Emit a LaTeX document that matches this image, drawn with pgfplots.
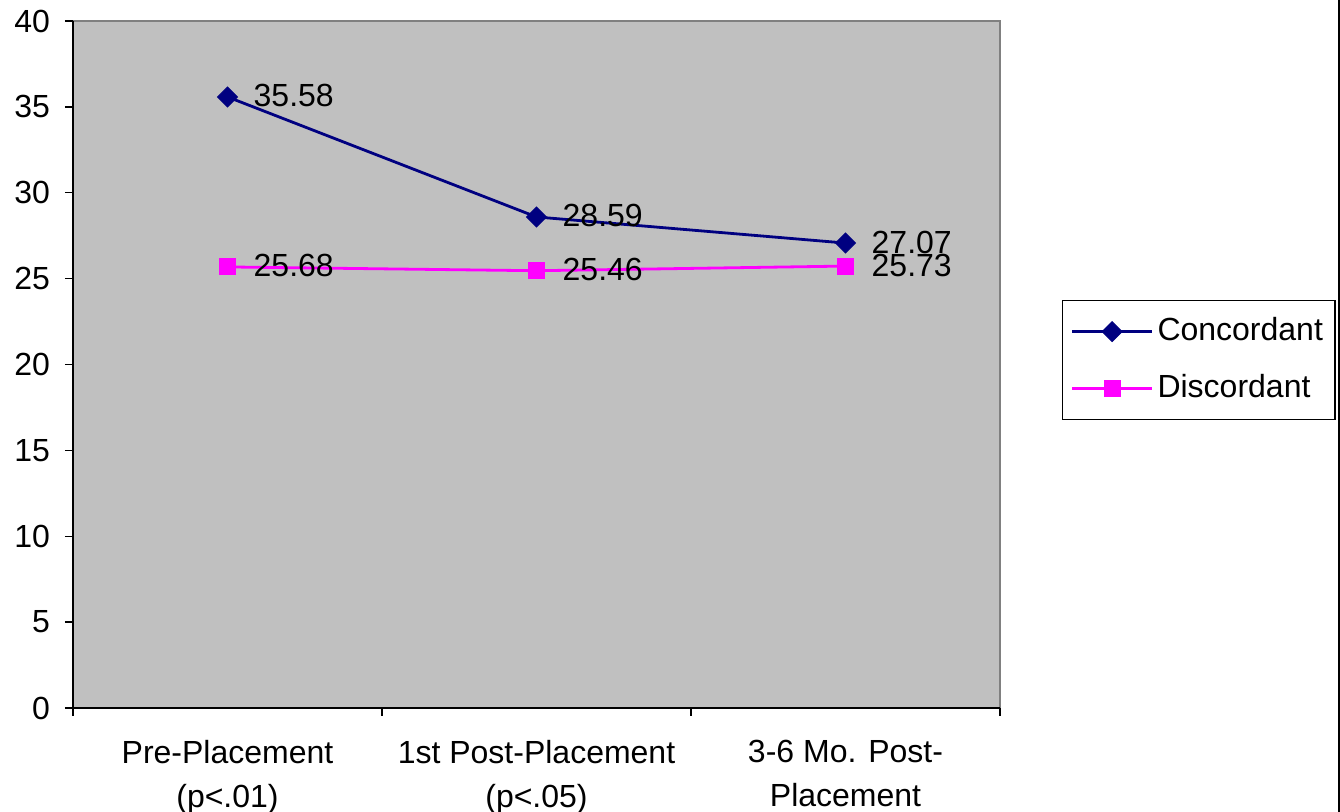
\documentclass[border=0pt]{standalone}
\usepackage{fontspec}
\setmainfont{Liberation Sans}
\usepackage{pgfplots}
\pgfplotsset{compat=1.18}
\definecolor{navy}{HTML}{000080}
\definecolor{mag}{HTML}{FF00FF}
\definecolor{plotbg}{HTML}{C0C0C0}
\definecolor{bordergray}{HTML}{808080}
\begin{document}
\fontsize{16}{22.5}\selectfont
\begin{tikzpicture}
\path[use as bounding box] (0,0) rectangle (670pt,406pt);
\draw[black, line width=1pt] (669.3pt,0) -- (669.3pt,406pt);
\begin{axis}[
  at={(36.5pt,52pt)}, anchor=south west,
  scale only axis, width=463.5pt, height=343.5pt,
  xmin=-0.5, xmax=2.5, ymin=0, ymax=40,
  axis background/.style={fill=plotbg},
  axis line style={draw=none},
  ytick={0,5,...,40},
  xtick={0,1,2},
  xtick pos=bottom, ytick pos=left,
  xticklabels={{Pre-Placement\\(p<.01)},{1st Post-Placement\\(p<.05)},{3-6 Mo. Post-\\Placement}},
  xticklabel style={align=center, font=\fontsize{16}{22}\selectfont, yshift=-6.5pt},
  yticklabel style={font=\fontsize{16}{19}\selectfont, xshift=-2pt},
  /pgf/number format/assume math mode=true,
  major x tick style={draw=none},
  minor xtick={-0.5,0.5,1.5,2.5},
  tick align=outside, tickwidth=4pt,
  minor tick length=4pt,
  tick style={black, line width=0.7pt},
  clip=false,
  nodes near coords,
  every node near coord/.append style={anchor=west, xshift=7.5pt, yshift=0.5pt, font=\fontsize{16}{19}\selectfont, black},
  point meta=explicit symbolic,
  legend style={at={(rel axis cs:1.0669,0.594)}, anchor=north west, draw=black, line width=0.7pt, fill=white,
    font=\fontsize{16}{19}\selectfont, row sep=10.5pt, inner xsep=4pt, inner ysep=6.5pt,
    cells={anchor=west}},
  legend image code/.code={\draw[mark repeat=2,mark phase=2,#1] plot coordinates {(0pt,0pt)(20pt,0pt)(40pt,0pt)};},
]
\addplot[navy, line width=1.4pt, mark=square*, mark size=3.5pt, mark options={fill=navy, draw=navy, rotate=45, line width=0.5pt}]
  coordinates {(0,35.58)[35.58] (1,28.59)[28.59] (2,27.07)[27.07]};
\addlegendentry{Concordant}
\addplot[mag, line width=1.4pt, mark=square*, mark size=4pt, mark options={fill=mag, draw=mag, line width=0.5pt}]
  coordinates {(0,25.68)[25.68] (1,25.46)[25.46] (2,25.73)[25.73]};
\addlegendentry{Discordant}
\draw[bordergray, line width=1.2pt] (rel axis cs:0,1) -- (rel axis cs:1,1) -- (rel axis cs:1,0);
\draw[black, line width=0.8pt] (rel axis cs:0,1) -- (rel axis cs:0,0) -- (rel axis cs:1,0);
\end{axis}
\end{tikzpicture}
\end{document}
